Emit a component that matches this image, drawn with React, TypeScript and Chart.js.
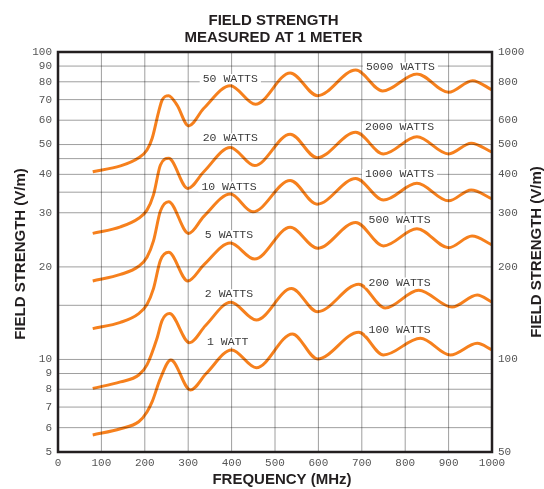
import { useEffect, useRef } from "react";
import { Chart, registerables } from "chart.js";

Chart.register(...registerables);

// Field strength (V/m) against frequency (MHz), one curve per pair of power levels
const frequency50 = [80, 144, 186, 205, 217, 232, 240, 255, 274, 301, 336, 397, 455, 535, 598, 686, 748, 827, 900, 955, 1000];
const field50 = [40.8, 42.6, 45.3, 48.0, 52.4, 64.0, 69.8, 72.1, 67.3, 57.5, 65.6, 77.7, 67.6, 85.5, 72.1, 87.4, 74.7, 84.8, 74.0, 80.7, 75.3];

const frequency20 = [80, 144, 186, 205, 220, 236, 255, 299, 336, 397, 453, 535, 597, 686, 750, 827, 900, 952, 1000];
const field20 = [25.7, 27.0, 28.8, 30.6, 34.3, 42.9, 45.1, 36.0, 40.8, 48.9, 42.7, 54.0, 45.3, 54.8, 46.6, 53.0, 46.6, 50.5, 47.2];

const frequency10 = [80, 144, 186, 205, 220, 236, 255, 301, 336, 397, 449, 535, 597, 686, 750, 827, 900, 952, 1000];
const field10 = [18.0, 18.9, 20.1, 21.5, 24.3, 30.4, 32.6, 25.7, 29.2, 34.5, 30.2, 38.2, 32.0, 38.8, 33.0, 37.4, 32.8, 35.6, 33.3];

const frequency5 = [80, 144, 186, 205, 220, 236, 255, 299, 336, 397, 453, 535, 598, 686, 750, 827, 900, 954, 1000];
const field5 = [12.6, 13.2, 14.1, 15.1, 17.0, 21.0, 22.3, 18.0, 20.3, 23.9, 21.2, 26.9, 23.0, 27.9, 23.4, 26.6, 23.1, 25.2, 23.6];

const frequency2 = [80, 144, 186, 205, 228, 240, 257, 303, 340, 398, 457, 538, 598, 693, 754, 831, 908, 966, 1000];
const field2 = [8.05, 8.45, 8.9, 9.6, 11.7, 13.4, 14.1, 11.34, 12.9, 15.35, 13.44, 17.0, 14.3, 17.56, 14.7, 16.8, 14.8, 16.2, 15.35];

const frequency1 = [80, 144, 186, 205, 217, 236, 260, 305, 342, 400, 457, 540, 598, 693, 750, 835, 904, 966, 1000];
const field1 = [5.68, 5.95, 6.27, 6.75, 7.29, 8.68, 9.96, 7.96, 9.02, 10.74, 9.4, 12.1, 10.04, 12.26, 10.34, 11.72, 10.34, 11.28, 10.74];

// Axis ticks and grid
const frequencyTicks = [0, 100, 200, 300, 400, 500, 600, 700, 800, 900, 1000];
const leftTicks = [5, 6, 7, 8, 9, 10, 20, 30, 40, 50, 60, 70, 80, 90, 100];
const rightTicks = [50, 100, 200, 300, 400, 500, 600, 800, 1000];
const fieldGrid = [5, 6, 7, 8, 9, 10, 15, 20, 30, 35, 40, 45, 50, 60, 70, 80, 90, 100];
const frequencyGrid = [100, 200, 300, 400, 500, 600, 700, 800, 900];

// Curve captions: left-axis power levels and right-axis power levels
const leftLabelText = ["50 WATTS", "20 WATTS", "10 WATTS", "5 WATTS", "2 WATTS", "1 WATT"];
const leftLabelFrequency = [397, 397, 394, 394, 394, 391];
const leftLabelField = [81.7, 52.4, 36.5, 25.35, 16.3, 11.38];

const rightLabelText = ["5000 WATTS", "2000 WATTS", "1000 WATTS", "500 WATTS", "200 WATTS", "100 WATTS"];
const rightLabelFrequency = [789, 787, 787, 787, 787, 787];
const rightLabelField = [892, 569, 401, 284, 178, 124.4];

const MONO = "'Liberation Mono', 'DejaVu Sans Mono', monospace";
const SANS = "'Liberation Sans', Arial, Helvetica, sans-serif";
const ORANGE = "#f6801d";
const INK = "#231f20";

const curves = [
  [frequency50, field50],
  [frequency20, field20],
  [frequency10, field10],
  [frequency5, field5],
  [frequency2, field2],
  [frequency1, field1],
];

const decorations = {
  id: "decorations",
  afterDatasetsDraw(chart: any) {
    const { ctx, chartArea: a, scales } = chart;
    const xs = scales.x;
    const ys = scales.y;
    const y2s = scales.y2;

    // grid lines laid over the curves so crossings darken
    ctx.save();
    ctx.globalCompositeOperation = "multiply";
    ctx.strokeStyle = "#9e9e9e";
    ctx.lineWidth = 1;
    ctx.beginPath();
    for (const v of fieldGrid) {
      const py = ys.getPixelForValue(v);
      ctx.moveTo(a.left, py);
      ctx.lineTo(a.right, py);
    }
    for (const v of frequencyGrid) {
      const px = xs.getPixelForValue(v);
      ctx.moveTo(px, a.top);
      ctx.lineTo(px, a.bottom);
    }
    ctx.stroke();
    ctx.restore();

    // captions on white plates
    ctx.save();
    ctx.font = `11.5px ${MONO}`;
    ctx.textAlign = "center";
    ctx.textBaseline = "middle";
    const caption = (text: string, px: number, py: number) => {
      const w = ctx.measureText(text).width;
      ctx.fillStyle = "#ffffff";
      ctx.fillRect(px - w / 2 - 3, py - 5, w + 6, 10);
      ctx.fillStyle = "#3a3a3a";
      ctx.fillText(text, px, py);
    };
    leftLabelText.forEach((t, i) =>
      caption(t, xs.getPixelForValue(leftLabelFrequency[i]), ys.getPixelForValue(leftLabelField[i]))
    );
    rightLabelText.forEach((t, i) =>
      caption(t, xs.getPixelForValue(rightLabelFrequency[i]), y2s.getPixelForValue(rightLabelField[i]))
    );
    ctx.restore();

    // plot frame
    ctx.save();
    ctx.strokeStyle = INK;
    ctx.lineWidth = 2.5;
    ctx.strokeRect(a.left, a.top, a.right - a.left, a.bottom - a.top);
    ctx.restore();
  },
  afterDraw(chart: any) {
    const { ctx, chartArea: a } = chart;
    const midY = (a.top + a.bottom) / 2;
    ctx.save();
    ctx.fillStyle = INK;
    ctx.textAlign = "center";
    ctx.textBaseline = "middle";
    ctx.font = `bold 15px ${SANS}`;
    ctx.fillText("FIELD STRENGTH", 273.5, 21);
    ctx.fillText("MEASURED AT 1 METER", 273.5, 37.5);
    ctx.fillText("FREQUENCY (MHz)", 282, 480);
    ctx.save();
    ctx.translate(21, midY + 2);
    ctx.rotate(-Math.PI / 2);
    ctx.fillText("FIELD STRENGTH (V/m)", 0, 0);
    ctx.restore();
    ctx.save();
    ctx.translate(537, midY);
    ctx.rotate(-Math.PI / 2);
    ctx.fillText("FIELD STRENGTH (V/m)", 0, 0);
    ctx.restore();
    ctx.restore();
  },
};

export default function App() {
  const ref = useRef<HTMLCanvasElement | null>(null);

  useEffect(() => {
    if (!ref.current) return;
    const tickFont = { family: MONO, size: 11 };
    const hiddenGrid = { display: false, drawTicks: false, tickLength: 0 };
    const chart = new Chart(ref.current, {
      type: "line",
      data: {
        datasets: curves.map(([f, v]) => ({
          data: f.map((x, i) => ({ x, y: v[i] })),
          borderColor: ORANGE,
          borderWidth: 3,
          pointRadius: 0,
          fill: false,
          cubicInterpolationMode: "monotone" as const,
          yAxisID: "y",
        })),
      },
      options: {
        animation: false,
        responsive: false,
        events: [],
        layout: { padding: { top: 52, left: 0, right: 0, bottom: 0 } },
        plugins: {
          legend: { display: false },
          tooltip: { enabled: false },
          title: { display: false },
        },
        scales: {
          x: {
            type: "linear",
            min: 0,
            max: 1000,
            grid: hiddenGrid,
            border: { display: false },
            afterBuildTicks: (s: any) => {
              s.ticks = frequencyTicks.map((value) => ({ value }));
            },
            ticks: {
              callback: (v: any) => String(v),
              color: "#555555",
              font: tickFont,
              padding: 4,
              maxRotation: 0,
              autoSkip: false,
            },
            afterFit: (s: any) => {
              s.height = 37;
            },
          },
          y: {
            type: "logarithmic",
            position: "left",
            min: 5,
            max: 100,
            grid: hiddenGrid,
            border: { display: false },
            afterBuildTicks: (s: any) => {
              s.ticks = leftTicks.map((value) => ({ value }));
            },
            ticks: {
              callback: (v: any) => String(v),
              color: "#555555",
              font: tickFont,
              padding: 6,
              autoSkip: false,
            },
            afterFit: (s: any) => {
              s.width = 58;
            },
          },
          y2: {
            type: "logarithmic",
            position: "right",
            min: 50,
            max: 1000,
            grid: hiddenGrid,
            border: { display: false },
            afterBuildTicks: (s: any) => {
              s.ticks = rightTicks.map((value) => ({ value }));
            },
            ticks: {
              callback: (v: any) => String(v),
              color: "#555555",
              font: tickFont,
              padding: 6,
              autoSkip: false,
            },
            afterFit: (s: any) => {
              s.width = 52;
            },
          },
        },
      },
      plugins: [decorations],
    });
    return () => chart.destroy();
  }, []);

  return (
    <div style={{ position: "fixed", left: 0, top: 0, width: 544, height: 489, background: "#ffffff" }}>
      <canvas ref={ref} width={544} height={489} style={{ display: "block" }} />
    </div>
  );
}
